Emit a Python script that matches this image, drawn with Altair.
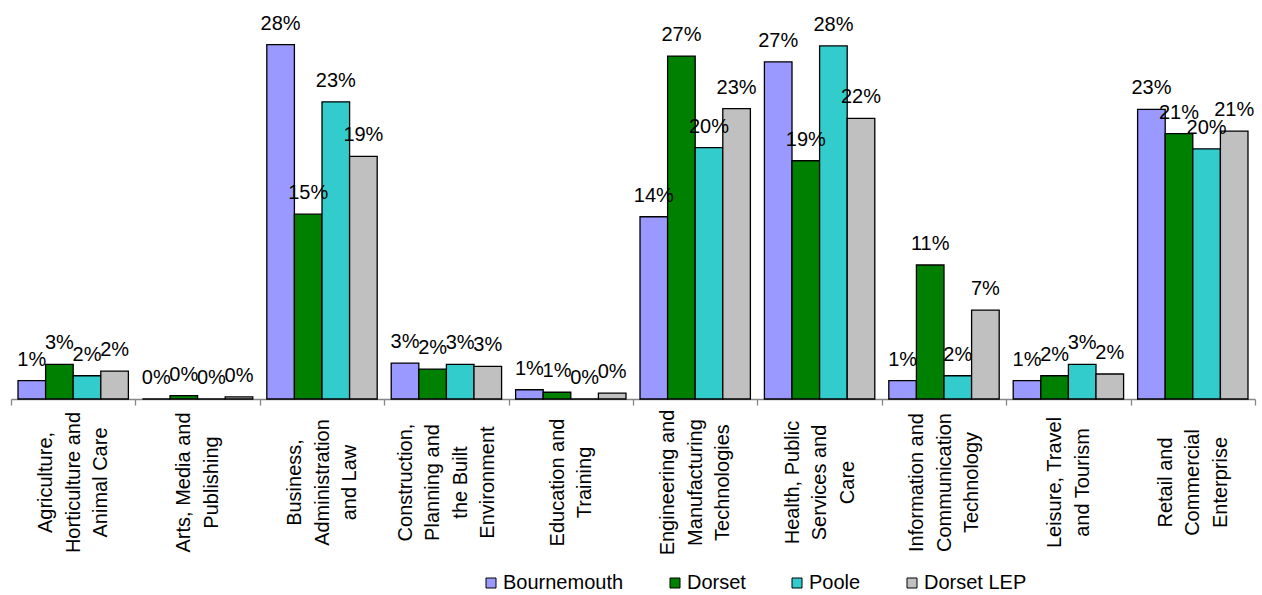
import altair as alt
import pandas as pd

# Sector categories (line breaks mark how each axis label wraps)
categories = [
    "Agriculture,\nHorticulture and\nAnimal Care",
    "Arts, Media and\nPublishing",
    "Business,\nAdministration\nand Law",
    "Construction,\nPlanning and\nthe Built\nEnvironment",
    "Education and\nTraining",
    "Engineering and\nManufacturing\nTechnologies",
    "Health, Public\nServices and\nCare",
    "Information and\nCommunication\nTechnology",
    "Leisure, Travel\nand Tourism",
    "Retail and\nCommercial\nEnterprise",
]

series = ["Bournemouth", "Dorset", "Poole", "Dorset LEP"]

# Share of starts by sector, in percent
bournemouth = [1.45, 0.0, 27.9, 2.83, 0.73, 14.35, 26.55, 1.45, 1.45, 22.8]
dorset = [2.73, 0.26, 14.55, 2.36, 0.53, 27.0, 18.76, 10.55, 1.83, 20.9]
poole = [1.83, 0.0, 23.4, 2.73, 0.0, 19.8, 27.8, 1.83, 2.73, 19.7]
dorset_lep = [2.2, 0.16, 19.1, 2.57, 0.47, 22.86, 22.1, 7.0, 1.97, 21.1]

colors = ["#9999FF", "#008000", "#33CCCC", "#C0C0C0"]

rows = []
for name, vals in zip(series, [bournemouth, dorset, poole, dorset_lep]):
    for cat, v in zip(categories, vals):
        rows.append({"category": cat, "series": name, "share": v / 100.0})
df = pd.DataFrame(rows)

FONT = "Liberation Sans"
LINE_H = 27.5

# shift each wrapped label so its block of lines is centred on the category
n_lines = "length(split(datum.value, '\\n'))"
label_shift = {
    "condition": [
        {"test": f"{n_lines} == 2", "value": -LINE_H / 2},
        {"test": f"{n_lines} == 4", "value": -LINE_H * 1.5},
    ],
    "value": -LINE_H,
}

base = alt.Chart(df).encode(
    x=alt.X(
        "category:N",
        sort=categories,
        title=None,
        scale=alt.Scale(paddingInner=0, paddingOuter=0),
        axis=alt.Axis(
            labelExpr="split(datum.label, '\\n')",
            labelAngle=270,
            labelAlign="center",
            labelBaseline="middle",
            labelPadding=77,
            labelOffset=label_shift,
            labelLineHeight=LINE_H,
            labelFontSize=20,
            labelFont=FONT,
            labelColor="black",
            labelLimit=400,
            labelOverlap=False,
            labelFlush=False,
            tickBand="extent",
            tickSize=6,
            tickColor="#868686",
            tickWidth=1.3,
            domainColor="#868686",
            domainWidth=1.3,
            grid=False,
        ),
    ),
    xOffset=alt.XOffset(
        "series:N",
        sort=series,
        scale=alt.Scale(paddingInner=0, paddingOuter=0.254),
    ),
    y=alt.Y("share:Q", scale=alt.Scale(domain=[0, 0.30]), axis=None),
)

bars = base.mark_bar(stroke="black", strokeWidth=1.3).encode(
    color=alt.Color(
        "series:N",
        sort=series,
        scale=alt.Scale(domain=series, range=colors),
        legend=alt.Legend(
            title=None,
            orient="none",
            legendX=470,
            legendY=555,
            direction="horizontal",
            symbolType="square",
            symbolSize=100,
            symbolStrokeColor="black",
            symbolStrokeWidth=1,
            symbolOpacity=1,
            labelFontSize=20,
            labelFont=FONT,
            labelColor="black",
            labelOffset=2,
            columnPadding=41,
            padding=0,
        ),
    )
)

labels = base.mark_text(
    baseline="alphabetic", dy=-15, fontSize=20, font=FONT, color="black"
).encode(text=alt.Text("share:Q", format=".0%"))

chart = (
    alt.layer(bars, labels)
    .properties(
        width=1244,
        height=381,
        autosize=alt.AutoSizeParams(type="none"),
        padding={"left": 11, "top": 18, "right": 7, "bottom": 196},
        background="white",
    )
    .configure_view(stroke="transparent")
)

chart.save("out.html", embed_options={"renderer": "svg", "actions": False})
